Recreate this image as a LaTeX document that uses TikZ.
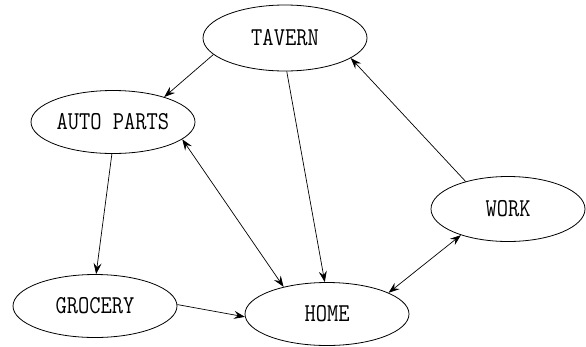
\documentclass[tikz,border=0pt]{standalone}
\usetikzlibrary{shapes.geometric,arrows.meta}
\newcommand{\lbltext}[1]{\makebox[0pt]{\scalebox{0.95}[1.12]{#1}}}
\begin{document}
\begin{tikzpicture}[x=1pt,y=-1pt,
  place/.style={draw,ellipse,line width=0.8pt,inner sep=0pt,minimum width=164pt,minimum height=63pt,
    font=\fontsize{23}{23}\selectfont\ttfamily},
  tip/.tip={Stealth[length=11pt,width=8pt,inset=4pt]},
  conn/.style={line width=0.7pt,-tip},
  dconn/.style={line width=0.7pt,tip-tip}]
\useasboundingbox (0,0) rectangle (586,346);
\node[place,minimum height=66pt] (tav) at (285,38) {\lbltext{TAVERN}};
\node[place] (auto) at (113,122) {\lbltext{AUTO PARTS}};
\node[place] (groc) at (95,306) {\lbltext{GROCERY}};
\node[place] (home) at (327,314) {\lbltext{HOME}};
\node[place,minimum width=154pt,minimum height=65pt] (work) at (508,209) {\lbltext{WORK}};
\draw[conn] (tav.193) -- (auto.26);
\draw[conn] (tav.273) -- (home.94);
\draw[conn] (work.147) -- (tav.343);
\draw[dconn] (auto.346) -- (home.148);
\draw[conn] (auto.268) -- (groc.88);
\draw[conn] (groc.1) -- (home.182);
\draw[dconn] (work.209) -- (home.19);
\end{tikzpicture}
\end{document}
